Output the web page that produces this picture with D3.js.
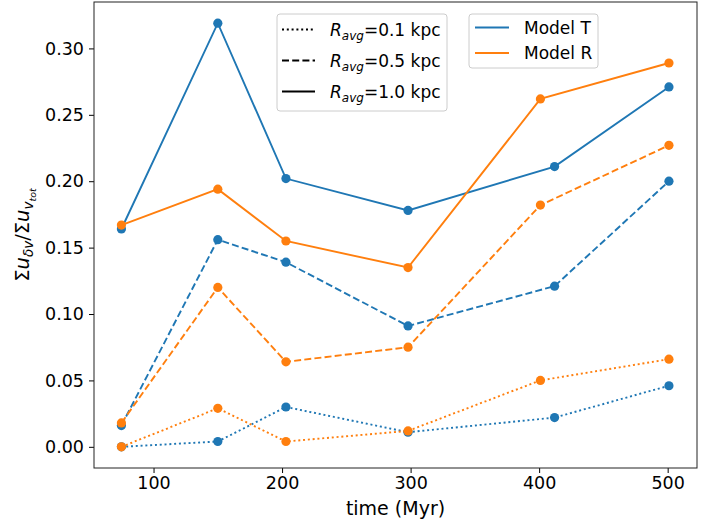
<!DOCTYPE html>
<html>
<head>
<meta charset="utf-8">
<script src="https://cdn.jsdelivr.net/npm/d3@7"></script>
<style>
  body { margin: 0; background: #fff; }
  text { font-family: "DejaVu Sans", sans-serif; }
</style>
</head>
<body>
<svg id="chart" width="712" height="523"></svg>
<script>
// times (Myr) -- model R's 4th snapshot is a bit earlier than model T's
var timesT = [75, 150, 203, 298, 412, 501];
var timesR = [75, 150, 203, 298, 401, 501];

// sum(u_dv)/sum(u_vtot) per averaging radius
var modelT_01 = [0.000, 0.004, 0.030, 0.011, 0.022, 0.046];
var modelR_01 = [0.000, 0.029, 0.004, 0.012, 0.050, 0.066];
var modelT_05 = [0.016, 0.156, 0.139, 0.091, 0.121, 0.200];
var modelR_05 = [0.018, 0.120, 0.064, 0.075, 0.182, 0.227];
var modelT_10 = [0.164, 0.319, 0.202, 0.178, 0.211, 0.271];
var modelR_10 = [0.167, 0.194, 0.155, 0.135, 0.262, 0.289];

var xTicks = [100, 200, 300, 400, 500];
var yTicks = [0.00, 0.05, 0.10, 0.15, 0.20, 0.25, 0.30];

var radiusLabels = ["0.1", "0.5", "1.0"];
var modelLabels = ["Model T", "Model R"];

var blue = "#1f77b4", orange = "#ff7f0e";
var dashes = { dot: "2,2.8", dash: "7,3.2", solid: null };

var svg = d3.select("#chart");
var margin = { top: 2, right: 15, bottom: 55, left: 94 };
var width = 712 - margin.left - margin.right;
var height = 523 - margin.top - margin.bottom;

var g = svg.append("g").attr("transform", "translate(" + margin.left + "," + margin.top + ")");

// matplotlib-like 5% padding
var xmin = 75, xmax = 501.5, ymin = 0, ymax = 0.319;
var px = (xmax - xmin) * 0.05, py = (ymax - ymin) * 0.05;
var x = d3.scaleLinear().domain([xmin - px, xmax + px]).range([0, width]);
var y = d3.scaleLinear().domain([ymin - py, ymax + py]).range([height, 0]);

var series = [
  { t: timesT, v: modelT_01, c: blue, d: dashes.dot },
  { t: timesR, v: modelR_01, c: orange, d: dashes.dot },
  { t: timesT, v: modelT_05, c: blue, d: dashes.dash },
  { t: timesR, v: modelR_05, c: orange, d: dashes.dash },
  { t: timesT, v: modelT_10, c: blue, d: dashes.solid },
  { t: timesR, v: modelR_10, c: orange, d: dashes.solid }
];

var line = d3.line().x(function(d) { return x(d[0]); }).y(function(d) { return y(d[1]); });

series.forEach(function(s) {
  var pts = s.t.map(function(t, i) { return [t, s.v[i]]; });
  g.append("path")
    .datum(pts)
    .attr("d", line)
    .attr("fill", "none")
    .attr("stroke", s.c)
    .attr("stroke-width", 1.9)
    .attr("stroke-dasharray", s.d);
  g.selectAll(null)
    .data(pts)
    .enter()
    .append("circle")
    .attr("cx", function(d) { return x(d[0]); })
    .attr("cy", function(d) { return y(d[1]); })
    .attr("r", 4.6)
    .attr("fill", s.c);
});

// axes
var xAxis = g.append("g")
  .attr("transform", "translate(0," + height + ")")
  .call(d3.axisBottom(x).tickValues(xTicks).tickSize(5).tickPadding(4).tickFormat(d3.format("d")));
var yAxis = g.append("g")
  .call(d3.axisLeft(y).tickValues(yTicks).tickSize(5).tickPadding(5).tickFormat(d3.format(".2f")));
[xAxis, yAxis].forEach(function(a) {
  a.select(".domain").remove();
  a.selectAll("text").style("font-size", "17.5px").attr("fill", "#000").style("font-family", "DejaVu Sans");
  a.selectAll("line").attr("stroke", "#000");
});

g.append("rect")
  .attr("width", width)
  .attr("height", height)
  .attr("fill", "none")
  .attr("stroke", "#222")
  .attr("stroke-width", 1);

// x label
svg.append("text")
  .attr("x", margin.left + width / 2)
  .attr("y", 515)
  .attr("text-anchor", "middle")
  .style("font-size", "19px")
  .text("time (Myr)");

// y label with math-style subscripts
var yl = svg.append("text")
  .attr("transform", "translate(29," + (margin.top + height / 2) + ") rotate(-90)")
  .attr("text-anchor", "middle")
  .style("font-size", "19.5px");
yl.append("tspan").text("Σ");
yl.append("tspan").style("font-style", "italic").text("u");
yl.append("tspan").attr("dy", 4).style("font-size", "13.5px").style("font-style", "italic").text("δv");
yl.append("tspan").attr("dy", -4).text("/Σ");
yl.append("tspan").style("font-style", "italic").text("u");
yl.append("tspan").attr("dy", 4).style("font-size", "13.5px").style("font-style", "italic").text("v");
yl.append("tspan").attr("dy", 3).style("font-size", "9.5px").style("font-style", "italic").text("tot");

// legend: radii
var leg1 = svg.append("g").attr("transform", "translate(277,14)");
leg1.append("rect")
  .attr("width", 170).attr("height", 97).attr("rx", 3)
  .attr("fill", "#fff").attr("fill-opacity", 0.8)
  .attr("stroke", "#ccc");
var leg1Dash = [dashes.dot, dashes.dash, dashes.solid];
radiusLabels.forEach(function(r, i) {
  var yy = 15.5 + i * 31;
  leg1.append("line")
    .attr("x1", 5).attr("x2", 38).attr("y1", yy).attr("y2", yy)
    .attr("stroke", "#000").attr("stroke-width", 1.9)
    .attr("stroke-dasharray", leg1Dash[i]);
  var t = leg1.append("text").attr("x", 53).attr("y", yy + 6).style("font-size", "17px");
  t.append("tspan").style("font-style", "italic").text("R");
  t.append("tspan").attr("dy", 4).style("font-size", "12px").style("font-style", "italic").text("avg");
  t.append("tspan").attr("dy", -4).text("=" + r + " kpc");
});

// legend: models
var leg2 = svg.append("g").attr("transform", "translate(469,14)");
leg2.append("rect")
  .attr("width", 129).attr("height", 54).attr("rx", 3)
  .attr("fill", "#fff").attr("fill-opacity", 0.8)
  .attr("stroke", "#ccc");
modelLabels.forEach(function(m, i) {
  var yy = 13.5 + i * 25.5;
  leg2.append("line")
    .attr("x1", 6).attr("x2", 40).attr("y1", yy).attr("y2", yy)
    .attr("stroke", i == 0 ? blue : orange).attr("stroke-width", 1.9);
  leg2.append("text").attr("x", 55).attr("y", yy + 6).style("font-size", "17px").text(m);
});
</script>
</body>
</html>
